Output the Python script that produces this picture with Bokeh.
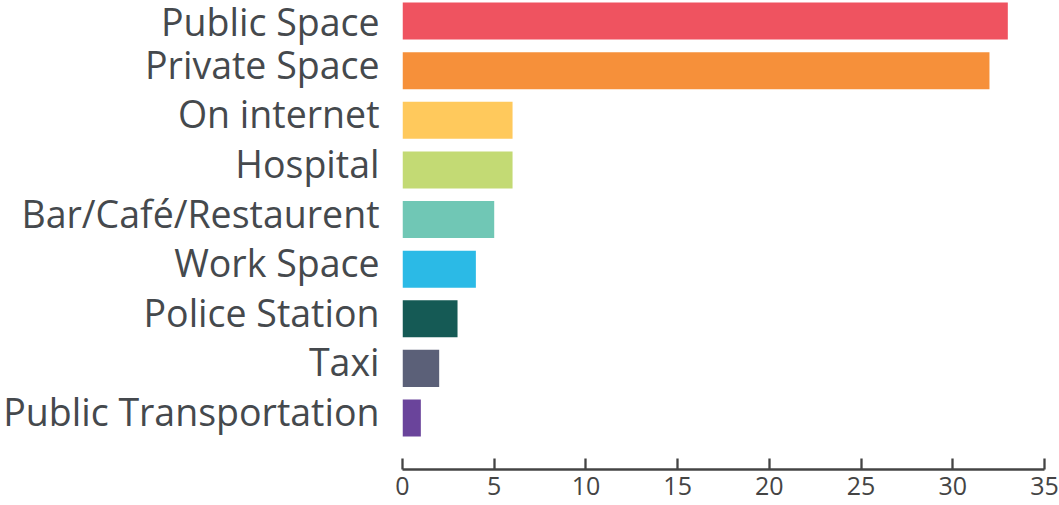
from bokeh.plotting import figure
from bokeh.models import Range1d, FixedTicker, ColumnDataSource, LinearAxis
from bokeh.embed import file_html
from bokeh.resources import INLINE

categories = ["Public Space", "Private Space", "On internet", "Hospital",
              "Bar/Café/Restaurent", "Work Space", "Police Station", "Taxi",
              "Public Transportation"]
values = [33, 32, 6, 6, 5, 4, 3, 2, 1]
colors = ["#EF5360", "#F6903A", "#FFC95C", "#C3DA74", "#70C7B5",
          "#2BBAE6", "#155A55", "#5B6078", "#6A449B"]
x_ticks = [0, 5, 10, 15, 20, 25, 30, 35]

n = len(categories)
ypos = [n - 1 - i for i in range(n)]
src = ColumnDataSource(dict(y=ypos, v=values, c=colors, cat=categories))

y0, y1 = -1.038, 8.414
shift = 0.13  # label range shifted so labels sit slightly higher than bar centres
pad_top = 5

p = figure(width=1059, height=505 + pad_top, output_backend="svg", toolbar_location=None,
           x_range=Range1d(0, 35), y_range=Range1d(y0, y1),
           y_axis_location=None,
           min_border_left=402, min_border_right=15, min_border_top=pad_top,
           min_border_bottom=36)
p.margin = (-pad_top, 0, 0, 0)
p.extra_y_ranges = {"lab": Range1d(y0 - shift, y1 - shift)}

p.hbar(y="y", right="v", left=0, height=0.746, fill_color="c", line_color=None, source=src)

p.outline_line_color = None
p.xgrid.grid_line_color = None
p.ygrid.grid_line_color = None

yax = LinearAxis(y_range_name="lab")
yax.ticker = FixedTicker(ticks=ypos)
yax.major_label_overrides = {y: c for y, c in zip(ypos, categories)}
yax.axis_line_color = None
yax.major_tick_line_color = None
yax.minor_tick_line_color = None
yax.major_label_standoff = 17
yax.major_label_text_font = "Open Sans"
yax.major_label_text_font_size = "37.5px"
yax.major_label_text_color = "#45494d"
p.add_layout(yax, "left")

xax = p.xaxis[0]
xax.ticker = FixedTicker(ticks=x_ticks)
xax.axis_line_color = "#444444"
xax.axis_line_width = 2.3
xax.major_tick_line_color = "#444444"
xax.major_tick_line_width = 2.3
xax.major_tick_in = 11
xax.major_tick_out = 0
xax.minor_tick_line_color = None
xax.major_label_standoff = 7
xax.major_label_text_font = "Open Sans"
xax.major_label_text_font_size = "25px"
xax.major_label_text_color = "#444444"

open("out.html", "w").write(file_html(p, INLINE))
